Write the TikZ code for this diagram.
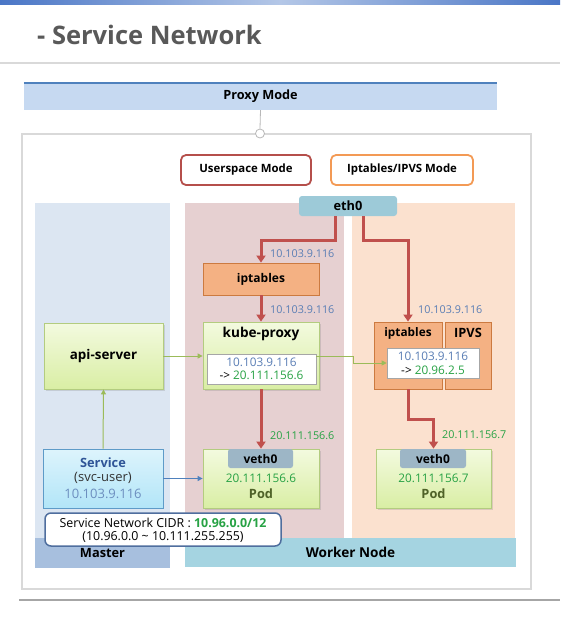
\documentclass[tikz,border=0pt]{standalone}
\usepackage{fontspec}
\setmainfont{Open Sans}
\usetikzlibrary{arrows.meta,shadows}
\definecolor{barblue}{HTML}{4A76C6}
\definecolor{barlight}{HTML}{B4C7E7}
\definecolor{titlegray}{HTML}{595959}
\definecolor{sepgray}{HTML}{D9D9D9}
\definecolor{botgray}{HTML}{A6A6A6}
\definecolor{proxyfill}{HTML}{C6D9F1}
\definecolor{proxyline}{HTML}{4F81BD}
\definecolor{userred}{HTML}{B54F4B}
\definecolor{iptmode}{HTML}{F39A55}
\definecolor{mastercol}{HTML}{DCE6F2}
\definecolor{masterstrip}{HTML}{A7BFDE}
\definecolor{usercol}{HTML}{E6D0D1}
\definecolor{iptcol}{HTML}{FBE1CF}
\definecolor{workerstrip}{HTML}{A5D4E1}
\definecolor{ethfill}{HTML}{9DCAD8}
\definecolor{redarr}{HTML}{C0504D}
\definecolor{iptfill}{HTML}{F4B183}
\definecolor{iptborder}{HTML}{CC7A40}
\definecolor{greentop}{HTML}{F3FADF}
\definecolor{greenbot}{HTML}{D9EEA4}
\definecolor{greenborder}{HTML}{B3CC7F}
\definecolor{numblue}{HTML}{5A7EB5}
\definecolor{numgreen}{HTML}{27A244}
\definecolor{vethfill}{HTML}{9DB6C6}
\definecolor{podtext}{HTML}{4F6228}
\definecolor{svctop}{HTML}{DDF4FC}
\definecolor{svcbot}{HTML}{B2E5F8}
\definecolor{svcborder}{HTML}{5E9BC8}
\definecolor{svctitle}{HTML}{2F5597}
\definecolor{svcnum}{HTML}{6C8EBF}
\definecolor{cidrborder}{HTML}{4F6E9E}
\definecolor{greenarr}{HTML}{9BBB59}
\definecolor{bluearr}{HTML}{4F81BD}
\newcommand{\fsz}[1]{\fontsize{#1}{#1}\selectfont}
\tikzset{
  boldtxt/.style={font=\bfseries\fsz{12.8}},
  lbl/.style={font=\fsz{10.8}, anchor=west, inner sep=0pt},
  modebox/.style={draw, line width=1.8pt, rounded corners=5pt, fill=white, font=\bfseries\fsz{11.4}, inner sep=0pt},
  iptbox/.style={draw=iptborder, line width=0.8pt, fill=iptfill, inner sep=0pt},
  greenbox/.style={draw=greenborder, line width=0.8pt, top color=greentop, bottom color=greenbot, inner sep=0pt,
     drop shadow={opacity=0.25, shadow xshift=1.5pt, shadow yshift=-1.5pt}},
  innerbox/.style={draw=botgray, line width=0.6pt, fill=white, inner sep=0pt,
     drop shadow={opacity=0.25, shadow xshift=1.2pt, shadow yshift=-1.2pt}},
  vethbox/.style={fill=vethfill, rounded corners=2.5pt, inner sep=0pt, font=\bfseries\fsz{12}},
  redarrow/.style={draw=redarr, line width=3pt, -{Triangle[length=7pt,width=9pt]}},
  greenarrow/.style={draw=greenarr, line width=1pt, -{Triangle[length=5pt,width=5pt]}},
  bluearrow/.style={draw=bluearr, line width=1pt, -{Triangle[length=5pt,width=5pt]}},
  txt/.style={inner sep=0pt},
  innertxt/.style={inner sep=0pt, font=\fsz{11.8}},
}
\begin{document}
\begin{tikzpicture}[x=1pt,y=-1pt]
\useasboundingbox (0,0) rectangle (560,624);
\fill[white] (0,0) rectangle (560,624);
% top bar
\shade[left color=barblue, right color=barblue, middle color=barlight] (0,0) rectangle (560,4);
% title
\node[anchor=west, inner sep=0pt, text=titlegray, font=\bfseries\fsz{25.5}] (title) at (37,35) {- Service Network};
\draw[sepgray, line width=2pt] (0,63) -- (560,63);
% proxy mode bar
\node[fill=proxyfill, minimum width=473, minimum height=27, inner sep=0pt, font=\bfseries\fsz{12.7}] (proxy) at (260.5,96.5) {Proxy Mode};
\draw[proxyline, line width=1.5pt] (proxy.north west) -- (proxy.north east);
% outer frame
\node[draw=sepgray, line width=1.5pt, minimum width=509, minimum height=455, inner sep=0pt] (outer) at (276.5,361.5) {};
\node[draw=botgray!80, fill=white, circle, minimum size=9, inner sep=0pt, line width=0.8pt] (pin) at (260,133.5) {};
\draw[botgray!80, line width=0.8pt] (proxy.south) -- (pin.north);
% mode boxes
\node[modebox, draw=userred, minimum width=130, minimum height=30] (usermode) at (246,170) {Userspace Mode};
\node[modebox, draw=iptmode, minimum width=142, minimum height=30] (iptmode) at (402,170) {Iptables/IPVS Mode};
% columns
\fill[mastercol] (35,203) rectangle (170,538);
\fill[masterstrip] (35,538) rectangle (170,568);
\fill[usercol] (185,203) rectangle (344,538);
\fill[iptcol] (352,203) rectangle (515,538);
\fill[workerstrip] (185,538) rectangle (516,567);
\node[boldtxt, txt] (master) at (102.5,553) {Master};
\node[txt, font=\bfseries\fsz{13.6}] (worker) at (350.5,552) {Worker Node};
% eth0
\node[fill=ethfill, rounded corners=3pt, minimum width=98, minimum height=20, inner sep=0pt, boldtxt] (eth0) at (348,206) {eth0};
% userspace
\node[iptbox, minimum width=116, minimum height=32, font=\bfseries\fsz{12}] (ipt1) at (261,279) {iptables};
\node[greenbox, minimum width=116, minimum height=67] (kp) at (261,355.5) {};
\node[txt, font=\bfseries\fsz{13.6}] (kptitle) at (261,334) {kube-proxy};
\node[innerbox, minimum width=109, minimum height=30] (kpin) at (261.5,369) {};
\node[innertxt, text=numblue] (kpin1) at (261.5,362) {10.103.9.116};
\node[innertxt] (kpin2) at (261.5,375.5) {-> \textcolor{numgreen}{20.111.156.6}};
% api-server
\node[greenbox, minimum width=119, minimum height=66, font=\bfseries\fsz{13.4}] (api) at (103.5,356) {api-server};
% iptables / ipvs
\node[iptbox, minimum width=68, minimum height=67] (ipt2) at (408,355.5) {};
\node[iptbox, minimum width=46, minimum height=67] (ipvs) at (468,355.5) {};
\node[txt, font=\bfseries\fsz{11.8}] (ipt2title) at (408,333) {iptables};
\node[txt, font=\bfseries\fsz{12.8}] (ipvstitle) at (468,333) {IPVS};
\node[innerbox, minimum width=92, minimum height=30] (in2) at (433,363) {};
\node[innertxt, text=numblue] (in2a) at (433,356) {10.103.9.116};
\node[innertxt] (in2b) at (433,370) {-> \textcolor{numgreen}{20.96.2.5}};
% pods
\node[greenbox, minimum width=116, minimum height=59] (pod1) at (261,478.5) {};
\node[vethbox, minimum width=65, minimum height=19] (veth1) at (260.5,458.5) {veth0};
\node[innertxt, text=numgreen] (pod1ip) at (261,478) {20.111.156.6};
\node[txt, boldtxt, text=podtext] (pod1lbl) at (261,494) {Pod};
\node[greenbox, minimum width=115, minimum height=59] (pod2) at (433.5,478.5) {};
\node[vethbox, minimum width=66, minimum height=19] (veth2) at (433,458.5) {veth0};
\node[innertxt, text=numgreen] (pod2ip) at (433.5,478) {20.111.156.7};
\node[txt, boldtxt, text=podtext] (pod2lbl) at (433.5,494) {Pod};
% service
\node[draw=svcborder, line width=0.8pt, top color=svctop, bottom color=svcbot, minimum width=120, minimum height=59, inner sep=0pt] (svc) at (103,478.5) {};
\node[txt, boldtxt, text=svctitle] (svct) at (103,463) {Service};
\node[txt, font=\fsz{13}, text=black!80] (svcn) at (103,478) {(svc-user)};
\node[txt, font=\fsz{13}, text=svcnum] (svcip) at (103,493.5) {10.103.9.116};
% cidr
\node[draw=cidrborder, line width=1.5pt, fill=white, rounded corners=6pt, minimum width=236, minimum height=33, inner sep=0pt] (cidr) at (163,529.5) {};
\node[txt, font=\fsz{12.4}] (cidr1) at (163,522.5) {Service Network CIDR : \textcolor{numgreen}{\bfseries 10.96.0.0/12}};
\node[txt, font=\fsz{12.4}] (cidr2) at (163,537) {(10.96.0.0 \textasciitilde{} 10.111.255.255)};
% connectors
\draw[redarrow] ([xshift=-13pt]eth0.south) -- ++(0,24) -| (ipt1.north);
\draw[redarrow] ([xshift=15pt]eth0.south) -- ++(0,24) -| (ipt2.north);
\draw[redarrow] (ipt1.south) -- (kp.north);
\draw[redarrow] (kp.south) -- (pod1.north);
\draw[redarrow] (ipt2.south) -- ++(0,30) -| (pod2.north);
\draw[greenarrow] (api.east) -- (api.east -| kp.west);
\draw[greenarrow] (svc.north) -- (api.south);
\draw[greenarrow] (kpin.east |- api.east) -- ++(37,0) |- (in2.west);
\draw[bluearrow] (svc.east) -- (pod1.west);
% labels
\node[lbl, text=numblue] (l1) at (270,254) {10.103.9.116};
\node[lbl, text=numblue] (l2) at (270,310) {10.103.9.116};
\node[lbl, text=numblue] (l3) at (418,310) {10.103.9.116};
\node[lbl, text=numgreen] (l4) at (270,436) {20.111.156.6};
\node[lbl, text=numgreen] (l5) at (442,435) {20.111.156.7};
% bottom line
\draw[botgray, line width=2pt] (19,600) -- (560,600);
\end{tikzpicture}
\end{document}
